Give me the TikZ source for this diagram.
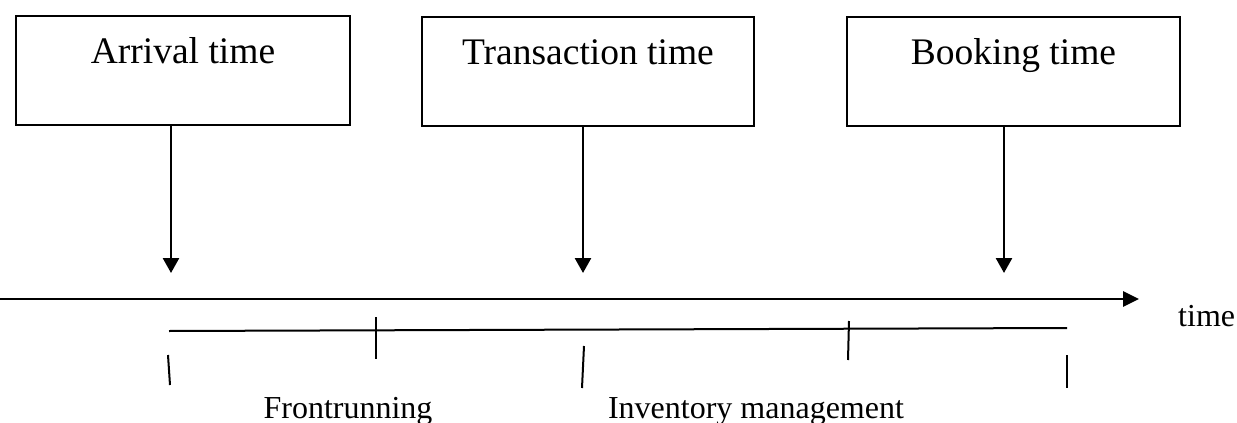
\documentclass[tikz,border=0pt]{standalone}
\usepackage{fontspec}
\setmainfont{Liberation Serif}
\usetikzlibrary{arrows.meta}
\begin{document}
\begin{tikzpicture}[x=1pt,y=-1pt,
  box/.style={draw, line width=2pt, inner sep=0pt, anchor=north west,
    text height=47pt, text depth=62pt, font=\fontsize{37.5}{45}\selectfont},
  downarrow/.style={line width=2.6pt, -{Triangle[width=16pt,length=15pt]}},
  axisline/.style={line width=2.8pt, -{Triangle[width=15pt,length=16pt]}},
  spanline/.style={line width=2pt},
  tick/.style={line width=2pt},
  lbl/.style={anchor=base, font=\fontsize{32}{38}\selectfont, inner sep=0pt}]
\useasboundingbox (0,0) rectangle (1237,423);
% boxes
\node[box, minimum width=334pt] (b1) at (15,15) {Arrival time};
\node[box, minimum width=332pt] (b2) at (421,16) {Transaction time};
\node[box, minimum width=333pt] (b3) at (846,16) {Booking time};
% arrow tips
\coordinate (t1) at (171,273);
\coordinate (t2) at (583,273);
\coordinate (t3) at (1004,273);
\draw[downarrow] (b1.south -| t1) -- (t1);
\draw[downarrow] (b2.south -| t2) -- (t2);
\draw[downarrow] (b3.south -| t3) -- (t3);
% time axis
\coordinate (a0) at (0,299);
\coordinate (a1) at (1139,299);
\draw[axisline] (a0) -- (a1);
\node[lbl, anchor=base west] (tl) at (1178,326) {time};
% span line
\coordinate (s0) at (169,331);
\coordinate (s1) at (1067,328);
\draw[spanline] (s0) -- (s1);
% ticks
\coordinate (k1a) at (376,317); \coordinate (k1b) at (376,359);
\coordinate (k2a) at (849,321); \coordinate (k2b) at (848,360);
\draw[tick] (k1a) -- (k1b);
\draw[tick] (k2a) -- (k2b);
\coordinate (m1a) at (168,355); \coordinate (m1b) at (170,385);
\coordinate (m2a) at (584,346); \coordinate (m2b) at (582,388);
\coordinate (m3a) at (1067,355); \coordinate (m3b) at (1067,388);
\draw[tick] (m1a) -- (m1b);
\draw[tick] (m2a) -- (m2b);
\draw[tick] (m3a) -- (m3b);
% labels
\node[lbl] (fr) at (348,418) {Frontrunning};
\node[lbl] (im) at (756,418) {Inventory management};
\end{tikzpicture}
\end{document}
